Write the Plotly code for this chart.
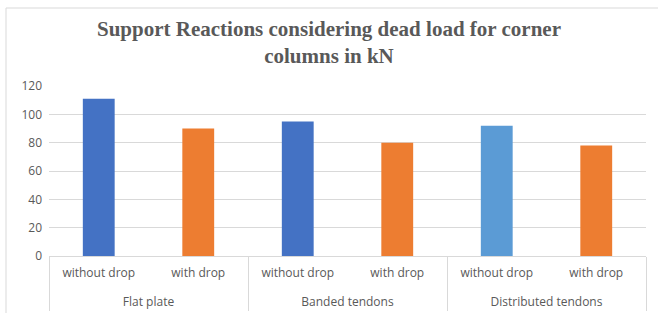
import plotly.graph_objects as go

groups = ["Flat plate", "Flat plate", "Banded tendons", "Banded tendons",
          "Distributed tendons", "Distributed tendons"]
subcats = ["without drop", "with drop", "without drop", "with drop",
           "without drop", "with drop"]
values = [111, 90, 95, 80, 92, 78]
colors = ["#4472C4", "#ED7D31", "#4472C4", "#ED7D31", "#5B9BD5", "#ED7D31"]

W, H = 658, 313
ml, mr, mt, mb = 49, 12, 86, 57
pw, ph = W - ml - mr, H - mt - mb

group_labels = ["<br>" + g for g in groups]

fig = go.Figure(go.Bar(x=[group_labels, subcats], y=values, marker_color=colors,
                       marker_line_width=0, width=0.32))

fig.update_layout(
    width=W, height=H,
    margin=dict(l=ml, r=mr, t=mt, b=mb, autoexpand=False),
    paper_bgcolor="white", plot_bgcolor="white",
    showlegend=False,
    font=dict(family="Open Sans", size=12, color="#595959"),
    title=dict(text="<b>Support Reactions considering dead load for corner<br>columns in kN</b>",
               x=0.5, xref="container", xanchor="center", y=1 - 36 / H, yref="container",
               yanchor="middle", automargin=False,
               font=dict(family="Liberation Serif", size=21, color="#595959")),
)
fig.update_yaxes(range=[0, 120], dtick=20, showgrid=True, gridcolor="#d9d9d9",
                 gridwidth=1, zeroline=False, showline=False, ticks="",
                 ticklabelstandoff=6, automargin=False)
fig.update_xaxes(type="multicategory", showline=True, linecolor="#d9d9d9",
                 showdividers=True, dividercolor="#d9d9d9", dividerwidth=1,
                 ticks="", showgrid=False, automargin=False, ticklabelstandoff=6)

fig.add_shape(type="rect", xref="paper", yref="paper",
              x0=(6 - ml) / pw, x1=1.2, y0=-1, y1=(H - mb - 8) / ph,
              line=dict(color="#d9d9d9", width=1), fillcolor="rgba(0,0,0,0)",
              layer="below")

fig.write_html("out.html", config={"displayModeBar": False},
               post_script="document.body.style.margin='0';document.body.style.overflow='hidden';")
